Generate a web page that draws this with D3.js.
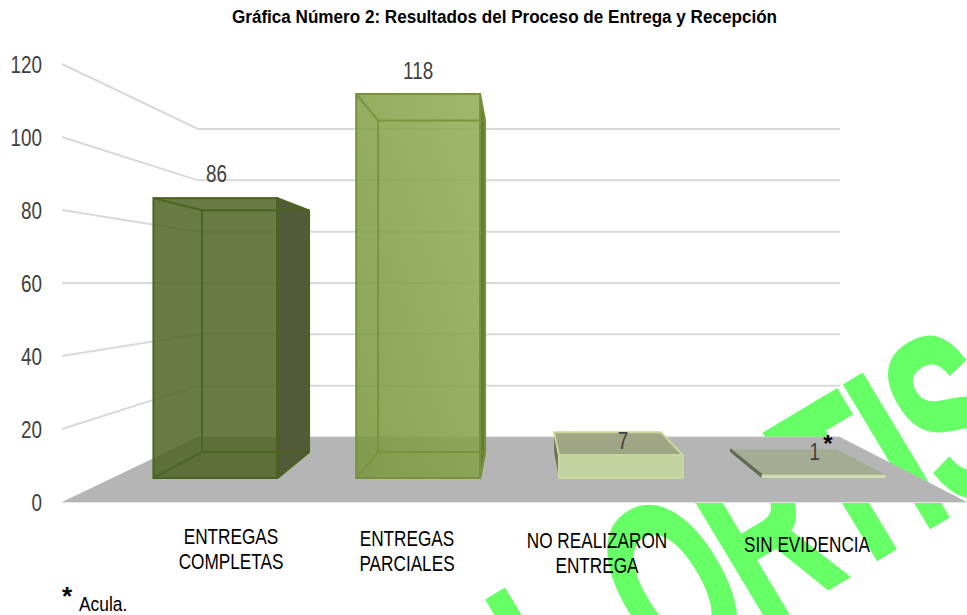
<!DOCTYPE html>
<html><head><meta charset="utf-8">
<script src="https://cdnjs.cloudflare.com/ajax/libs/d3/7.8.5/d3.min.js"></script>
<style>html,body{margin:0;padding:0;background:#fff;overflow:hidden}svg{display:block}text{font-family:"Liberation Sans",Arial,sans-serif}</style>
</head><body>
<script>
const titleText = "Gráfica Número 2: Resultados del Proceso de Entrega y Recepción";
const categories = ["ENTREGAS\nCOMPLETAS", "ENTREGAS\nPARCIALES", "NO REALIZARON\nENTREGA", "SIN EVIDENCIA"];
const values = [86, 118, 7, 1];
const yTicks = [0, 20, 40, 60, 80, 100, 120];
const footnote = "Acula.";
const watermark = "L ORTIS";

const faceColors = ["#506324", "#819d46", "#c3d39f", "#a4ad93"];
const faceOpacity = [0.85, 0.88, 1, 1];
const edgeColors = ["#4b6320", "#76923c", "#c9d89c", "#a4ad93"];
const sideColors = ["#4f5836", "#5f7a30", "#6b7256", "#636b55"];
const topColors = ["#506324", "#819d46", "#a0a585", "#a4ad93"];

const W = 967, H = 615;
const svg = d3.select("body").append("svg").attr("width", W).attr("height", H);

const defs = svg.append("defs");
const g2 = defs.append("linearGradient").attr("id", "g2").attr("x1", "0").attr("y1", "1").attr("x2", "1").attr("y2", "0");
g2.append("stop").attr("offset", "0").attr("stop-color", "#7b9640");
g2.append("stop").attr("offset", "1").attr("stop-color", "#92ae58");

const wallFront = d3.scaleLinear().domain([0, 120]).range([502, 64]);
const wallBack = d3.scaleLinear().domain([0, 120]).range([437, 129]);
const yFront = d3.scaleLinear().domain([0, 120]).range([478, 87.5]);
const yBack = d3.scaleLinear().domain([0, 120]).range([452, 114.8]);
const xFront = d3.scaleBand().domain(categories).range([113.5, 925.5]).paddingInner(0.389).paddingOuter(0.197);
const xBack = d3.scaleBand().domain(categories).range([175.6, 863.6]).paddingInner(0.392).paddingOuter(0.15);

const squeeze = 0.8;
function label(parent, x, y, s, size, fill, anchor, sx, weight) {
  return parent.append("text")
    .attr("transform", `translate(${x},${y}) scale(${sx === undefined ? squeeze : sx},1)`)
    .attr("text-anchor", anchor || "middle")
    .attr("font-size", size).attr("fill", fill)
    .attr("font-weight", weight || "normal").text(s);
}

svg.append("text")
  .attr("transform", "translate(564,747) rotate(-31) scale(0.6,1)")
  .attr("font-size", 240).attr("font-weight", "bold").attr("fill", "#66ff66")
  .attr("stroke", "#66ff66").attr("stroke-width", 4).attr("stroke-linejoin", "miter")
  .attr("letter-spacing", -4)
  .attr("xml:space", "preserve").style("white-space", "pre").text(watermark);

svg.append("polygon")
  .attr("points", [[62, wallFront(0)], [198, wallBack(0)], [840, wallBack(0)], [967, wallFront(0)]].join(" "))
  .attr("fill", "#b5b5b5");
svg.append("line").attr("x1", 62).attr("x2", 967).attr("y1", wallFront(0) + 0.5).attr("y2", wallFront(0) + 0.5).attr("stroke", "#e4e4e4").attr("stroke-width", 1);
svg.append("line").attr("x1", 198).attr("x2", 840).attr("y1", wallBack(0)).attr("y2", wallBack(0)).attr("stroke", "#c4c4c4").attr("stroke-width", 1);

svg.append("g").selectAll("polyline").data(yTicks.filter(d => d > 0)).join("polyline")
  .attr("points", d => [[62, wallFront(d)], [198, wallBack(d)], [840, wallBack(d)]].join(" "))
  .attr("fill", "none").attr("stroke", "#d9d9d9").attr("stroke-width", 2);

yTicks.forEach(t => label(svg, 42, wallFront(t) + 9, t, 23, "#404040", "end", 0.82));

const bars = svg.append("g");
values.forEach((v, i) => {
  const c = categories[i];
  const fl = xFront(c), fr = fl + xFront.bandwidth();
  const bl = xBack(c), br = bl + xBack.bandwidth();
  const ft = yFront(v), fb = yFront(0), bt = yBack(v), bb = yBack(0);
  const g = bars.append("g");
  const edge = { stroke: edgeColors[i], w: 2 };
  const poly = (pts, fill, op, stroke) => g.append("polygon").attr("points", pts.join(" "))
    .attr("fill", fill).attr("fill-opacity", op)
    .attr("stroke", stroke || "none").attr("stroke-width", stroke ? edge.w : 0).attr("stroke-linejoin", "round");
  if (br > fr) poly([[fr, ft], [br, bt], [br, bb], [fr, fb]], sideColors[i], 0.98, edge.stroke);
  if (bl < fl) poly([[fl, ft], [bl, bt], [bl, bb], [fl, fb]], sideColors[i], 1);
  if (bt < ft) poly([[bl, bt], [br, bt], [fr, ft], [fl, ft]], topColors[i], 1, i === 2 ? edge.stroke : null);
  const fillFront = i === 1 ? "url(#g2)" : i === 3 ? "#d2dbb2" : faceColors[i];
  g.append("rect").attr("x", fl).attr("y", ft).attr("width", fr - fl).attr("height", fb - ft)
    .attr("fill", fillFront).attr("fill-opacity", faceOpacity[i])
    .attr("stroke", i < 3 ? edge.stroke : "none").attr("stroke-width", i === 3 ? 0 : 2);
  if (i < 2) {
    g.append("path")
      .attr("d", `M${fl},${ft}L${bl},${bt}L${br},${bt}M${bl},${bt}L${bl},${bb}L${br},${bb}M${bl},${bb}L${fl},${fb}M${br},${bb}L${fr},${fb}`)
      .attr("fill", "none").attr("stroke", edge.stroke).attr("stroke-width", 2).attr("stroke-opacity", 0.95);
  }
  if (i === 3) {
    g.append("line").attr("x1", bl).attr("y1", bt).attr("x2", fl).attr("y2", ft)
      .attr("stroke", sideColors[i]).attr("stroke-width", 2);
  }
});

const valueDx = [1, 0, 2, -9];
const valueDy = [-16, -15, -6, -15];
values.forEach((v, i) => {
  const c = categories[i];
  label(svg, xFront(c) + xFront.bandwidth() / 2 + valueDx[i], yFront(v) + valueDy[i], v, 23, "#404040", "middle", 0.82);
});

const catX = [231, 407, 597, 807];
const catY = [544, 546, 548, 552];
categories.forEach((c, i) => c.split("\n").forEach((s, k) =>
  label(svg, catX[i], catY[i] + k * 25, s, 21.5, "#000")));

label(svg, 828, 452, "*", 24, "#000", "middle", 1, "bold");
label(svg, 67, 605, "*", 26, "#000", "middle", 1, "bold");
label(svg, 79, 611, footnote, 20, "#000", "start", 0.87);

label(svg, 504.5, 23, titleText, 19, "#000", "middle", 0.9, "bold");
</script>
</body></html>
